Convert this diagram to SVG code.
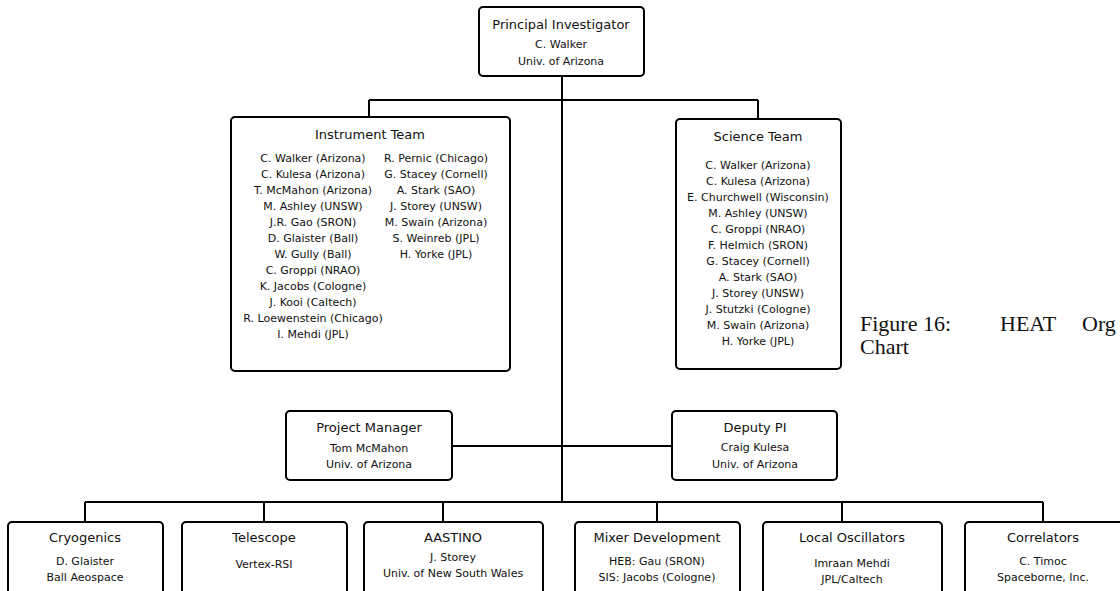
<svg xmlns="http://www.w3.org/2000/svg" width="1120" height="591" viewBox="0 0 1120 591">
<style>
.box{fill:#fff;stroke:#000;stroke-width:2}
.ln{fill:none;stroke:#000;stroke-width:2}
text{font-family:"DejaVu Sans","Liberation Sans",sans-serif;fill:#111;text-anchor:middle}
.t{font-size:13px}
.s{font-size:11px}
.cap{font-family:"Liberation Serif",serif;font-size:22px;text-anchor:start}
</style>
<rect width="1120" height="591" fill="#fff"/>
<g id="connectors">
<path class="ln" d="M562 76V502"/>
<path class="ln" d="M369 100H758M369 100V117M758 100V119"/>
<path class="ln" d="M452 446H672"/>
<path class="ln" d="M85 502H1043M85 502V522M264 502V522M443 502V522M657 502V522M842 502V522M1043 502V522"/>
</g>
<g id="pi">
<rect class="box" x="479" y="7" width="165" height="69" rx="4"/>
<text class="t" x="561" y="29">Principal Investigator</text>
<text class="s" x="561" y="48">C. Walker</text>
<text class="s" x="561" y="65">Univ. of Arizona</text>
</g>
<g id="instrument-team">
<rect class="box" x="231" y="117" width="279" height="254" rx="4"/>
<text class="t" x="370" y="139">Instrument Team</text>
<text class="s" x="313" y="162">C. Walker (Arizona)</text>
<text class="s" x="313" y="178">C. Kulesa (Arizona)</text>
<text class="s" x="313" y="194">T. McMahon (Arizona)</text>
<text class="s" x="313" y="210">M. Ashley (UNSW)</text>
<text class="s" x="313" y="226">J.R. Gao (SRON)</text>
<text class="s" x="313" y="242">D. Glaister (Ball)</text>
<text class="s" x="313" y="258">W. Gully (Ball)</text>
<text class="s" x="313" y="274">C. Groppi (NRAO)</text>
<text class="s" x="313" y="290">K. Jacobs (Cologne)</text>
<text class="s" x="313" y="306">J. Kooi (Caltech)</text>
<text class="s" x="313" y="322">R. Loewenstein (Chicago)</text>
<text class="s" x="313" y="338">I. Mehdi (JPL)</text>
<text class="s" x="436" y="162">R. Pernic (Chicago)</text>
<text class="s" x="436" y="178">G. Stacey (Cornell)</text>
<text class="s" x="436" y="194">A. Stark (SAO)</text>
<text class="s" x="436" y="210">J. Storey (UNSW)</text>
<text class="s" x="436" y="226">M. Swain (Arizona)</text>
<text class="s" x="436" y="242">S. Weinreb (JPL)</text>
<text class="s" x="436" y="258">H. Yorke (JPL)</text>
</g>
<g id="science-team">
<rect class="box" x="676" y="119" width="165" height="250" rx="4"/>
<text class="t" x="758" y="141">Science Team</text>
<text class="s" x="758" y="169">C. Walker (Arizona)</text>
<text class="s" x="758" y="185">C. Kulesa (Arizona)</text>
<text class="s" x="758" y="201">E. Churchwell (Wisconsin)</text>
<text class="s" x="758" y="217">M. Ashley (UNSW)</text>
<text class="s" x="758" y="233">C. Groppi (NRAO)</text>
<text class="s" x="758" y="249">F. Helmich (SRON)</text>
<text class="s" x="758" y="265">G. Stacey (Cornell)</text>
<text class="s" x="758" y="281">A. Stark (SAO)</text>
<text class="s" x="758" y="297">J. Storey (UNSW)</text>
<text class="s" x="758" y="313">J. Stutzki (Cologne)</text>
<text class="s" x="758" y="329">M. Swain (Arizona)</text>
<text class="s" x="758" y="345">H. Yorke (JPL)</text>
</g>
<g id="caption">
<text class="cap" x="860" y="331">Figure 16:</text>
<text class="cap" x="1000" y="331">HEAT</text>
<text class="cap" x="1082" y="331">Org</text>
<text class="cap" x="860" y="354">Chart</text>
</g>
<g id="project-manager">
<rect class="box" x="286" y="411" width="166" height="69" rx="4"/>
<text class="t" x="369" y="432">Project Manager</text>
<text class="s" x="369" y="452">Tom McMahon</text>
<text class="s" x="369" y="468">Univ. of Arizona</text>
</g>
<g id="deputy-pi">
<rect class="box" x="672" y="411" width="165" height="69" rx="4"/>
<text class="t" x="755" y="432">Deputy PI</text>
<text class="s" x="755" y="451">Craig Kulesa</text>
<text class="s" x="755" y="468">Univ. of Arizona</text>
</g>
<g id="cryogenics">
<rect class="box" x="8" y="522" width="155" height="80" rx="4"/>
<text class="t" x="85" y="542">Cryogenics</text>
<text class="s" x="85" y="565">D. Glaister</text>
<text class="s" x="85" y="581">Ball Aeospace</text>
</g>
<g id="telescope">
<rect class="box" x="182" y="522" width="165" height="80" rx="4"/>
<text class="t" x="264" y="542">Telescope</text>
<text class="s" x="264" y="568">Vertex-RSI</text>
</g>
<g id="aastino">
<rect class="box" x="364" y="522" width="179" height="80" rx="4"/>
<text class="t" x="453" y="542">AASTINO</text>
<text class="s" x="453" y="561">J. Storey</text>
<text class="s" x="453" y="577">Univ. of New South Wales</text>
</g>
<g id="mixer-development">
<rect class="box" x="575" y="522" width="165" height="80" rx="4"/>
<text class="t" x="657" y="542">Mixer Development</text>
<text class="s" x="657" y="565">HEB: Gau (SRON)</text>
<text class="s" x="657" y="581">SIS: Jacobs (Cologne)</text>
</g>
<g id="local-oscillators">
<rect class="box" x="763" y="522" width="179" height="80" rx="4"/>
<text class="t" x="852" y="542">Local Oscillators</text>
<text class="s" x="852" y="567">Imraan Mehdi</text>
<text class="s" x="852" y="583">JPL/Caltech</text>
</g>
<g id="correlators">
<rect class="box" x="965" y="522" width="170" height="80" rx="4"/>
<text class="t" x="1043" y="542">Correlators</text>
<text class="s" x="1043" y="565">C. Timoc</text>
<text class="s" x="1043" y="581">Spaceborne, Inc.</text>
</g>
</svg>
